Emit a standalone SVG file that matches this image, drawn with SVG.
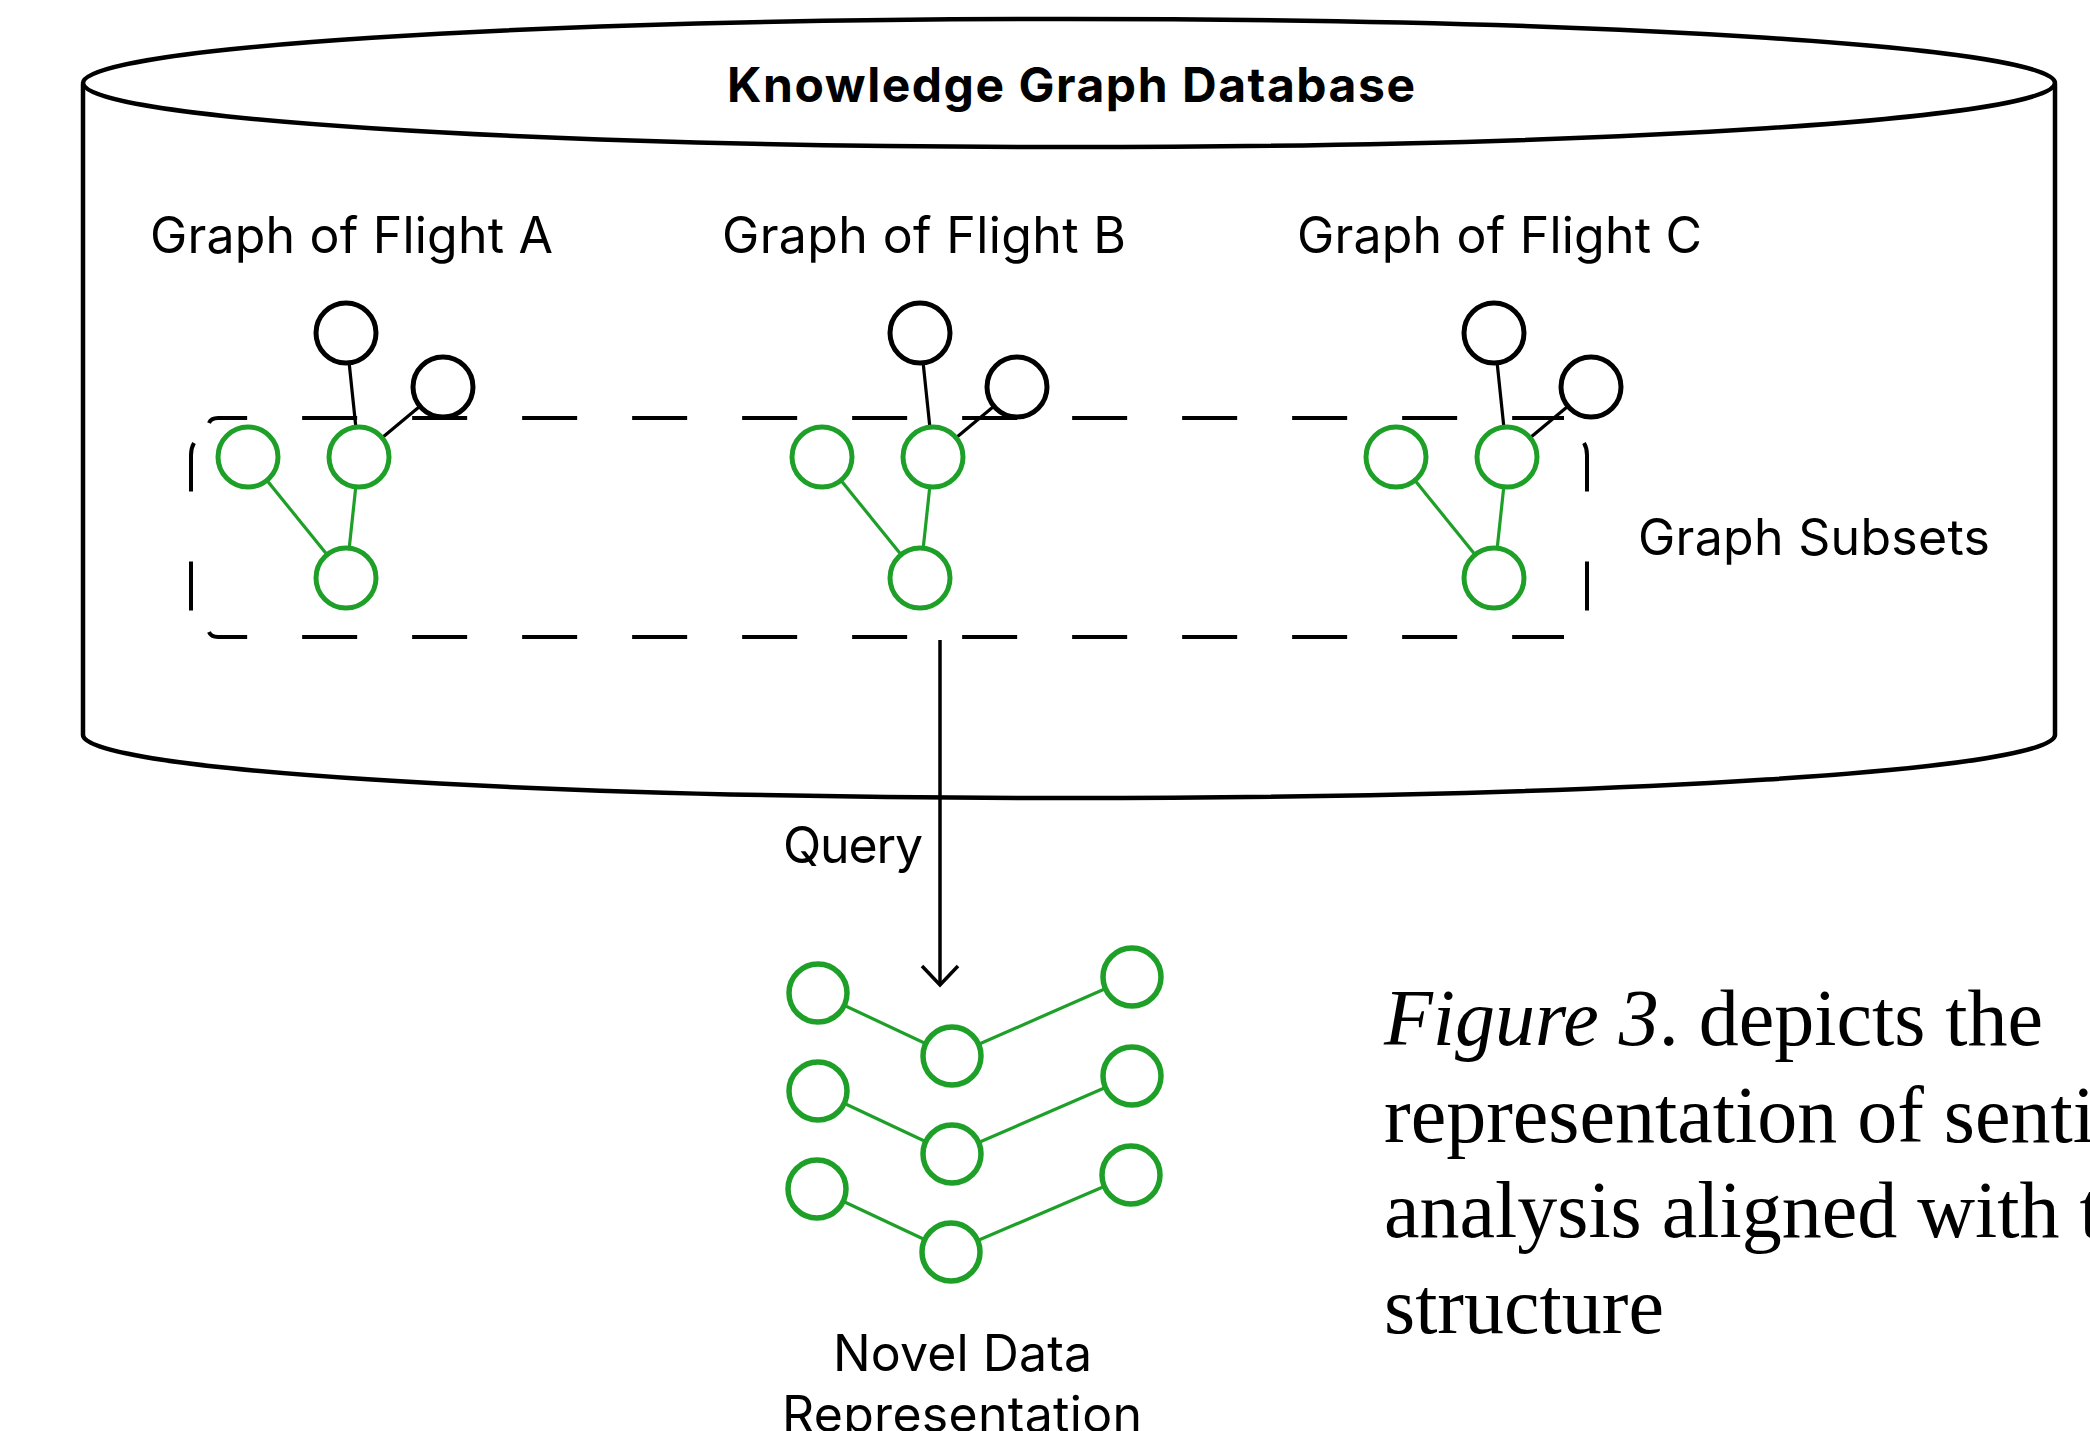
<svg xmlns="http://www.w3.org/2000/svg" width="2090" height="1431" viewBox="0 0 2090 1431">
  <style>
    .outline { fill: none; stroke: #000; stroke-width: 4.5; }
    .bnode { fill: #fff; stroke: #000; stroke-width: 5; }
    .gnode { fill: #fff; stroke: #1ea028; stroke-width: 5; }
    .gnode2 { fill: #fff; stroke: #1ea028; stroke-width: 5.5; }
    .bedge { stroke: #000; stroke-width: 3.2; fill: none; }
    .gedge { stroke: #1ea028; stroke-width: 3.2; fill: none; }
    .dash { fill: none; stroke: #000; stroke-width: 4; stroke-linecap: butt; }
    .lbl { font-family: Inter, "Liberation Sans", sans-serif; font-size: 50px; fill: #000; }
    .title { font-family: Inter, "Liberation Sans", sans-serif; font-size: 48px; font-weight: 700; fill: #000; }
    .cap { font-family: "Liberation Serif", "Times New Roman", serif; font-size: 80px; fill: #000; }
  </style>
  <defs>
    <marker id="chev" markerUnits="userSpaceOnUse" markerWidth="40" markerHeight="40" refX="0" refY="0" orient="auto" overflow="visible">
      <path d="M -19 -18 L 0 0 L -19 18" fill="none" stroke="#000" stroke-width="3.5"/>
    </marker>
  </defs>
  <rect width="2090" height="1431" fill="#fff"/>

  <g id="kg-database">
    <path class="outline" d="M 83 84 L 83 735 A 986 63 0 0 0 2055 735 L 2055 84"/>
    <ellipse class="outline" cx="1069" cy="83" rx="986" ry="64"/>
    <text class="title" x="727" y="102" textLength="688" lengthAdjust="spacing">Knowledge Graph Database</text>
  </g>

  <g id="connectors">
    <!-- Flight A edges -->
    <line class="bedge" x1="346" y1="333" x2="359" y2="457"/>
    <line class="bedge" x1="443" y1="387" x2="359" y2="457"/>
    <line class="gedge" x1="248" y1="457" x2="346" y2="578"/>
    <line class="gedge" x1="359" y1="457" x2="346" y2="578"/>
    <!-- Flight B edges -->
    <line class="bedge" x1="920" y1="333" x2="933" y2="457"/>
    <line class="bedge" x1="1017" y1="387" x2="933" y2="457"/>
    <line class="gedge" x1="822" y1="457" x2="920" y2="578"/>
    <line class="gedge" x1="933" y1="457" x2="920" y2="578"/>
    <!-- Flight C edges -->
    <line class="bedge" x1="1494" y1="333" x2="1507" y2="457"/>
    <line class="bedge" x1="1591" y1="387" x2="1507" y2="457"/>
    <line class="gedge" x1="1396" y1="457" x2="1494" y2="578"/>
    <line class="gedge" x1="1507" y1="457" x2="1494" y2="578"/>
    <!-- Novel representation edges -->
    <polyline class="gedge" points="818,993 952,1056 1132,977"/>
    <polyline class="gedge" points="818,1091 952,1154 1132,1076"/>
    <polyline class="gedge" points="817,1189 951,1252 1131,1175"/>
    <!-- Query arrow -->
    <line x1="940" y1="640" x2="940" y2="985" stroke="#000" stroke-width="3.5" marker-end="url(#chev)"/>
    <text class="lbl" x="783" y="863" textLength="140" lengthAdjust="spacing">Query</text>
  </g>

  <g id="graph-flight-a">
    <text class="lbl" x="150" y="253" textLength="403" lengthAdjust="spacing">Graph of Flight A</text>
    <circle class="bnode" cx="346" cy="333" r="30"/>
    <circle class="bnode" cx="443" cy="387" r="30"/>
    <circle class="gnode" cx="248" cy="457" r="30"/>
    <circle class="gnode" cx="359" cy="457" r="30"/>
    <circle class="gnode" cx="346" cy="578" r="30"/>
  </g>

  <g id="graph-flight-b">
    <text class="lbl" x="722" y="253" textLength="404" lengthAdjust="spacing">Graph of Flight B</text>
    <circle class="bnode" cx="920" cy="333" r="30"/>
    <circle class="bnode" cx="1017" cy="387" r="30"/>
    <circle class="gnode" cx="822" cy="457" r="30"/>
    <circle class="gnode" cx="933" cy="457" r="30"/>
    <circle class="gnode" cx="920" cy="578" r="30"/>
  </g>

  <g id="graph-flight-c">
    <text class="lbl" x="1297" y="253" textLength="405" lengthAdjust="spacing">Graph of Flight C</text>
    <circle class="bnode" cx="1494" cy="333" r="30"/>
    <circle class="bnode" cx="1591" cy="387" r="30"/>
    <circle class="gnode" cx="1396" cy="457" r="30"/>
    <circle class="gnode" cx="1507" cy="457" r="30"/>
    <circle class="gnode" cx="1494" cy="578" r="30"/>
  </g>

  <g id="graph-subsets">
    <path class="dash" d="M 209 423 Q 211 418 218 418 L 1564 418" stroke-dasharray="55 55" stroke-dashoffset="15"/>
    <path class="dash" d="M 209 632 Q 211 637 218 637 L 1564 637" stroke-dasharray="55 55" stroke-dashoffset="15"/>
    <path class="dash" d="M 194 443 Q 191 448 191 455 L 191 612" stroke-dasharray="49 70"/>
    <path class="dash" d="M 1584 443 Q 1587 448 1587 455 L 1587 612" stroke-dasharray="49 70"/>
    <text class="lbl" x="1638" y="555" textLength="352" lengthAdjust="spacing">Graph Subsets</text>
  </g>

  <g id="novel-data-representation">
    <circle class="gnode2" cx="818" cy="993" r="29"/>
    <circle class="gnode2" cx="952" cy="1056" r="29"/>
    <circle class="gnode2" cx="1132" cy="977" r="29"/>
    <circle class="gnode2" cx="818" cy="1091" r="29"/>
    <circle class="gnode2" cx="952" cy="1154" r="29"/>
    <circle class="gnode2" cx="1132" cy="1076" r="29"/>
    <circle class="gnode2" cx="817" cy="1189" r="29"/>
    <circle class="gnode2" cx="951" cy="1252" r="29"/>
    <circle class="gnode2" cx="1131" cy="1175" r="29"/>
    <text class="lbl" x="833" y="1371" textLength="259" lengthAdjust="spacing">Novel Data</text>
    <text class="lbl" x="782" y="1432" textLength="360" lengthAdjust="spacing">Representation</text>
  </g>

  <g id="caption">
    <text class="cap" x="1384" y="1045"><tspan font-style="italic">Figure 3</tspan>. depicts the</text>
    <text class="cap" x="1384" y="1142">representation of senti</text>
    <text class="cap" x="1384" y="1237">analysis aligned with t</text>
    <text class="cap" x="1384" y="1333">structure</text>
  </g>
</svg>
